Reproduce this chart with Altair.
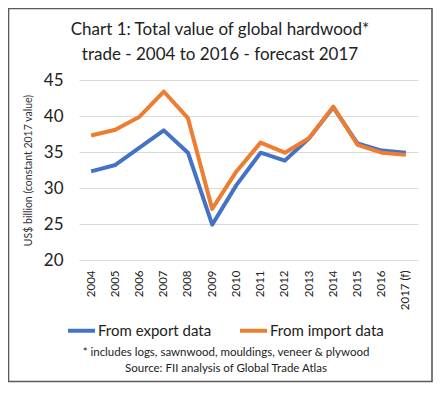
import altair as alt
import pandas as pd

years = ["2004", "2005", "2006", "2007", "2008", "2009", "2010", "2011",
         "2012", "2013", "2014", "2015", "2016", "2017 (f)"]
export_vals = [32.3, 33.2, 35.6, 38.0, 34.9, 24.9, 30.4, 34.9, 33.8, 36.9, 41.2, 36.2, 35.2, 34.9]
import_vals = [37.3, 38.1, 39.9, 43.4, 39.7, 27.1, 32.3, 36.3, 34.9, 36.9, 41.3, 36.0, 34.9, 34.6]
series_names = ["From export data", "From import data"]
series_colors = ["#4472C4", "#ED7D31"]
y_ticks = [20, 25, 30, 35, 40, 45]
title_lines = ["Chart 1: Total value of global hardwood*", "trade - 2004 to 2016 - forecast 2017"]
note_lines = ["* includes logs, sawnwood, mouldings, veneer & plywood",
              "Source: FII analysis of Global Trade Atlas"]

rows = []
for y, v in zip(years, export_vals):
    rows.append({"year": y, "value": v, "series": series_names[0]})
for y, v in zip(years, import_vals):
    rows.append({"year": y, "value": v, "series": series_names[1]})
df = pd.DataFrame(rows)

FONT = "Lato"
W, H = 339, 180

lines = alt.Chart(df).mark_line(strokeWidth=4, strokeJoin="round", strokeCap="butt").encode(
    x=alt.X("year:N", sort=years, scale=alt.Scale(type="point", padding=0.5),
            axis=alt.Axis(title=None, labelAngle=270, labelAlign="right", labelBaseline="middle",
                          labelFontSize=11.5, labelColor="#222", labelFont=FONT, labelPadding=10,
                          ticks=False, domain=False, grid=False)),
    y=alt.Y("value:Q", scale=alt.Scale(domain=[20, 45], nice=False, zero=False),
            axis=alt.Axis(title="US$ billion (constant 2017 value)", values=y_ticks,
                          titleFontSize=10.5, titleFont=FONT, titleFontWeight="normal", titleColor="#333",
                          titlePadding=10, labelFontSize=17, labelFont=FONT, labelColor="#222",
                          labelPadding=16, ticks=False, domain=False, gridColor="#D9D9D9",
                          gridWidth=1)),
    color=alt.Color("series:N", scale=alt.Scale(domain=series_names, range=series_colors),
                    legend=alt.Legend(title=None, orient="none", legendX=-13, legendY=235,
                                      direction="horizontal", symbolType="stroke",
                                      symbolStrokeWidth=4, symbolSize=729, labelFontSize=15,
                                      labelFont=FONT, labelColor="#222", labelOffset=1,
                                      columnPadding=20, symbolOffset=0))
)

frame = alt.Chart(pd.DataFrame({"a": [0]})).mark_rect(fill=None, stroke="#595959", strokeWidth=1.6).encode(
    x=alt.value(-70.5), x2=alt.value(353), y=alt.value(-71.5), y2=alt.value(301.5)
)


def text_layer(txt, x, y, size):
    return alt.Chart(pd.DataFrame({"t": [txt]})).mark_text(
        fontSize=size, font=FONT, color="#222", align="center", baseline="middle").encode(
        text="t:N", x=alt.value(x), y=alt.value(y))


title1 = text_layer(title_lines[0], 141, -50, 17)
title2 = text_layer(title_lines[1], 141, -25.5, 17)
note1 = text_layer(note_lines[0], 147, 272.5, 11.5)
note2 = text_layer(note_lines[1], 147, 289, 11.5)

chart = alt.layer(frame, lines, title1, title2, note1, note2).properties(
    width=W, height=H,
    autosize=alt.AutoSizeParams(type="none"),
    padding={"left": 71, "top": 72, "right": 15, "bottom": 125},
).configure_view(stroke=None)

chart.save("out.html", embed_options={"renderer": "svg", "actions": False})
